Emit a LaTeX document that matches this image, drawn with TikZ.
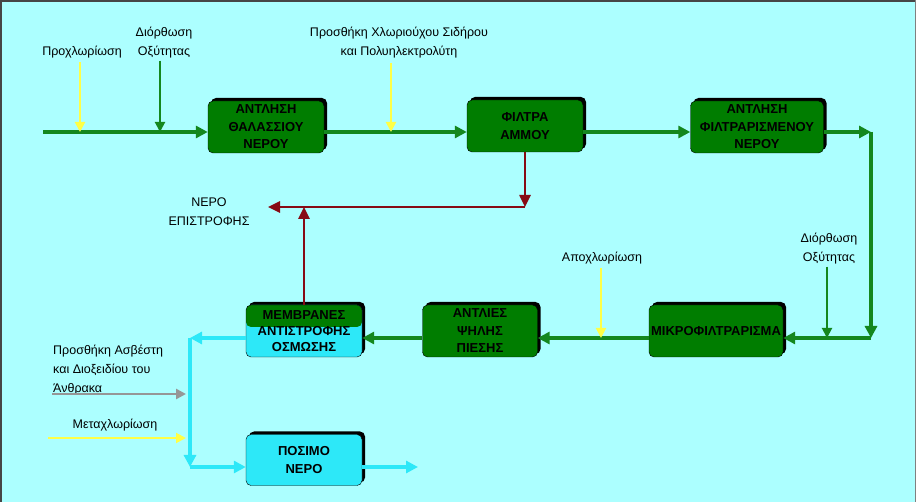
\documentclass[tikz,border=0pt]{standalone}
\usepackage{fontspec}
\setmainfont{Liberation Sans}
\usepackage{xcolor}
\usetikzlibrary{arrows.meta, shadows}

\definecolor{bgcyan}{RGB}{172,255,255}
\definecolor{framegray}{RGB}{70,70,70}
\definecolor{boxgreen}{RGB}{0,125,0}
\definecolor{flowgreen}{RGB}{20,135,30}
\definecolor{dosyellow}{RGB}{255,255,70}
\definecolor{waterblue}{RGB}{45,232,248}
\definecolor{rejectred}{RGB}{135,10,20}
\definecolor{limegray}{RGB}{150,150,150}

\begin{document}
\begin{tikzpicture}[
x=1pt, y=-1pt,
>={Triangle[length=12pt,width=12pt]},
unit/.style={rectangle, rounded corners=5pt, draw=black, fill=boxgreen, minimum width=116pt, minimum height=52pt, inner sep=1pt, font=\fontsize{13}{17.5}\selectfont\bfseries, align=center, drop shadow={shadow xshift=3pt, shadow yshift=3pt, fill=black, opacity=1}},
note/.style={font=\fontsize{12.5}{19}\selectfont, align=center, inner sep=0pt},
flow/.style={->, line width=3.5pt, draw=flowgreen},
potable/.style={->, line width=4pt, draw=waterblue},
dose/.style={->, line width=2pt, draw=dosyellow, >={Triangle[length=10pt,width=10pt]}},
acid/.style={->, line width=2pt, draw=flowgreen, >={Triangle[length=10pt,width=10pt]}},
reject/.style={->, line width=2.5pt, draw=rejectred, >={Triangle[length=12pt,width=11pt]}},
lime/.style={->, line width=2.5pt, draw=limegray, >={Triangle[length=10pt,width=10pt]}}
]

% background and frame
\useasboundingbox (0,0) rectangle (916,502);
\fill[bgcyan] (0,0) rectangle (916,502);
\draw[framegray, line width=2.5pt] (0,1.2) -- (916,1.2);
\draw[framegray, line width=2pt] (1,0) -- (1,502);
\draw[gray, line width=1pt] (915.5,0) -- (915.5,502);

% process units
\node[unit] (seapump) at (266,127) {ΑΝΤΛΗΣΗ\\ΘΑΛΑΣΣΙΟΥ\\ΝΕΡΟΥ};
\node[unit] (sandflt) at (525,126) {ΦΙΛΤΡΑ\\ΑΜΜΟΥ};
\node[unit, minimum width=133pt] (fltpump) at (757,127) {ΑΝΤΛΗΣΗ\\ΦΙΛΤΡΑΡΙΣΜΕΝΟΥ\\ΝΕΡΟΥ};
\node[unit, minimum width=134pt] (microflt) at (716,331) {ΜΙΚΡΟΦΙΛΤΡΑΡΙΣΜΑ};
\node[unit, minimum width=115pt] (hppump) at (480,331) {ΑΝΤΛΙΕΣ\\ΨΗΛΗΣ\\ΠΙΕΣΗΣ};
\node[unit, fill=waterblue, font=\fontsize{13}{16}\selectfont\bfseries,
  path picture={\fill[boxgreen] (path picture bounding box.north west) rectangle ([yshift=-22pt]path picture bounding box.north east);}]
  (membrane) at (304,331) {ΜΕΜΒΡΑΝΕΣ\\ΑΝΤΙΣΤΡΟΦΗΣ\\ΟΣΜΩΣΗΣ};
\node[unit, fill=waterblue, minimum height=51pt] (posimo) at (304,460) {ΠΟΣΙΜΟ\\ΝΕΡΟ};

% labels
\node[note] (prechlor) at (82,52) {Προχλωρίωση};
\node[note] (phfix) at (164,43) {Διόρθωση\\Οξύτητας};
\node[note] (ferric) at (399,43) {Προσθήκη Χλωριούχου Σιδήρου\\και Πολυηλεκτρολύτη};
\node[note] (phfixb) at (829,249) {Διόρθωση\\Οξύτητας};
\node[note] (dechlor) at (602,258) {Αποχλωρίωση};
\node[note] (retlabel) at (209,212) {ΝΕΡΟ\\ΕΠΙΣΤΡΟΦΗΣ};
\node[note, align=left, anchor=north west] (limetxt) at (53,345) {Προσθήκη Ασβέστη\\και Διοξειδίου του\\Άνθρακα};
\node[note] (postchlor) at (115,425) {Μεταχλωρίωση};

% junction points
\coordinate (inlet) at (43,132);
\coordinate (topbend) at (871,132);
\coordinate (lowbend) at (871,338);
\coordinate (retcorner) at (525,207);
\coordinate (retout) at (268,207);
\coordinate (rojoin) at (190,338);
\coordinate (rodown) at (190,467);
\coordinate (product) at (418,467);
\coordinate (limein) at (52,394);
\coordinate (postin) at (48,438);

% main seawater line
\draw[flow] (inlet) -- (seapump.west |- inlet);
\draw[flow] (seapump.east |- inlet) -- (sandflt.west |- inlet);
\draw[flow] (sandflt.east |- inlet) -- (fltpump.west |- inlet);
\draw[flow] (fltpump.east |- inlet) -- (topbend);
\draw[flow] (topbend) -- (lowbend);
\draw[flow] (lowbend) -- (microflt.east |- lowbend);
\draw[flow] (microflt.west |- lowbend) -- (hppump.east |- lowbend);
\draw[flow] (hppump.west |- lowbend) -- (membrane.east |- lowbend);

% dosing
\draw[dose, shorten <=4pt] (80,0 |- prechlor.south) -- (80,0 |- inlet);
\draw[acid, shorten <=2pt] ([xshift=-4pt]phfix.south) -- ([xshift=-4pt]phfix.south |- inlet);
\draw[dose, shorten <=4pt] ([xshift=-8pt]ferric.south) -- ([xshift=-8pt]ferric.south |- inlet);
\draw[acid, shorten <=2pt] ([xshift=-2pt]phfixb.south) -- ([xshift=-2pt]phfixb.south |- lowbend);
\draw[dose, shorten <=4pt] ([xshift=-1pt]dechlor.south) -- ([xshift=-1pt]dechlor.south |- lowbend);

% return water
\draw[reject] (sandflt.south) -- (retcorner);
\draw[reject] (retcorner) -- (retout);
\draw[reject] (membrane.north) -- (membrane.north |- retcorner);

% product water
\draw[potable] (membrane.west |- rojoin) -- (rojoin);
\draw[potable] (rojoin) -- (rodown);
\draw[potable] (rodown) -- (posimo.west |- rodown);
\draw[potable] (posimo.east |- rodown) -- (product);
\draw[lime] (limein) -- ([xshift=-4pt]limein -| rojoin);
\draw[dose] (postin) -- ([xshift=-4pt]postin -| rojoin);

\end{tikzpicture}
\end{document}
